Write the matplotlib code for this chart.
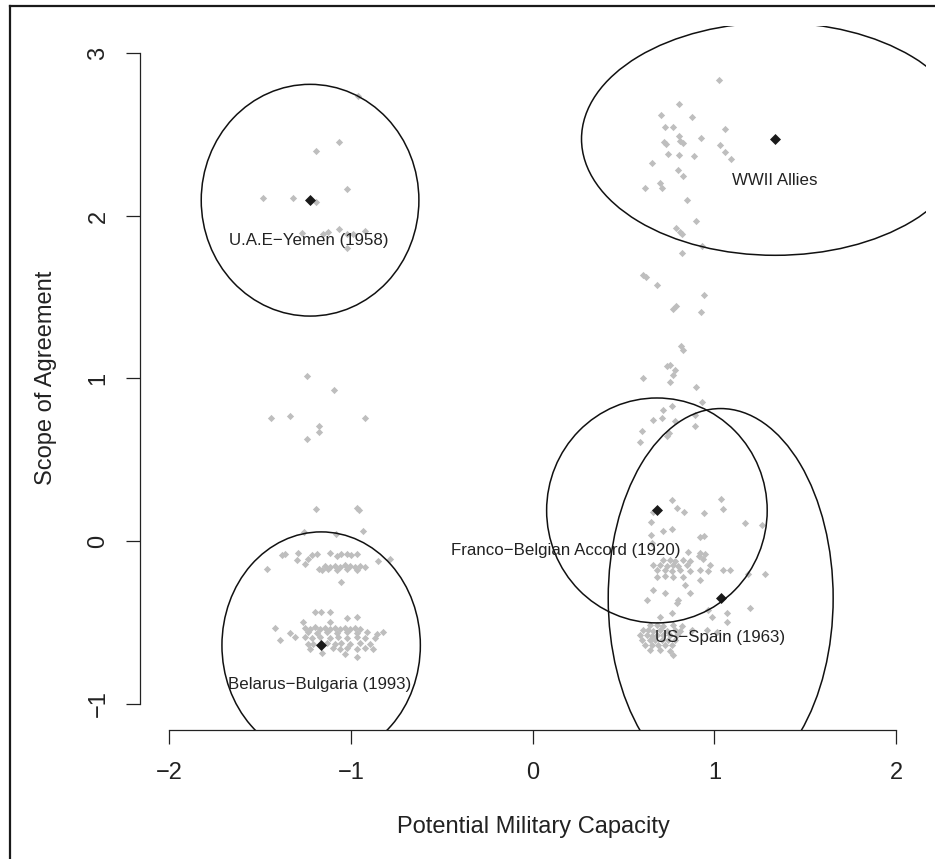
import matplotlib
matplotlib.use("Agg")
import matplotlib.pyplot as plt
from matplotlib.patches import Ellipse
from matplotlib.lines import Line2D

plt.rcParams['font.family'] = ['Liberation Sans', 'DejaVu Sans']

# grey dots: individual alliances (left group)
left_x = [-0.960, -1.064, -1.194, -1.022, -1.486, -1.318, -1.194, -1.268, -1.152, -1.125,
          -1.064, -1.024, -0.987, -0.923, -1.020, -1.240,
          -1.094, -1.439, -1.334, -0.921, -1.174, -1.174, -1.244, -1.194, -0.969, -0.954,
          -1.259, -1.083, -0.932,
          -1.380, -1.363, -1.290, -1.216, -1.189, -1.116, -1.079, -1.052, -1.024, -0.997, -0.969,
          -1.299, -1.235, -0.850, -0.785, -1.253,
          -1.143, -1.116, -1.088, -1.061, -1.034, -1.006, -0.979, -0.951, -0.924,
          -1.464, -1.178, -1.161, -1.125, -1.079, -1.024, -0.969, -1.052,
          -1.198, -1.167, -1.116, -1.020, -0.969, -1.262, -1.116,
          -1.418, -1.253, -1.226, -1.198, -1.171, -1.143, -1.116, -1.088, -1.061, -1.034, -1.006, -0.979, -0.951,
          -1.336, -1.235, -1.189, -1.134, -1.079, -1.024, -0.969, -0.914, -0.859, -0.822,
          -1.308, -1.253, -1.216, -1.171, -1.116, -1.070, -1.024, -0.969, -0.923, -0.868,
          -1.391,
          -1.235, -1.207, -1.134, -1.088, -1.052, -1.006, -0.951, -0.896,
          -1.226, -1.097, -1.061, -1.024, -0.969, -0.923, -0.877,
          -1.161, -1.034, -0.969]
left_y = [2.737, 2.456, 2.399, 2.163, 2.112, 2.112, 2.087, 1.896, 1.892, 1.902,
          1.917, 1.892, 1.892, 1.908, 1.806, 1.014,
          0.932, 0.756, 0.772, 0.756, 0.706, 0.672, 0.625, 0.196, 0.200, 0.190,
          0.056, 0.046, 0.060,
          -0.086, -0.078, -0.074, -0.088, -0.080, -0.076, -0.090, -0.082, -0.078, -0.086, -0.080,
          -0.118, -0.112, -0.122, -0.110, -0.142,
          -0.155, -0.160, -0.152, -0.158, -0.150, -0.156, -0.160, -0.153, -0.158,
          -0.175, -0.172, -0.178, -0.170, -0.176, -0.172, -0.178, -0.252,
          -0.436, -0.438, -0.434, -0.472, -0.468, -0.497, -0.500,
          -0.538, -0.535, -0.542, -0.532, -0.540, -0.536, -0.544, -0.534, -0.540, -0.537, -0.543, -0.536, -0.540,
          -0.564, -0.560, -0.568, -0.562, -0.566, -0.560, -0.568, -0.563, -0.570, -0.562,
          -0.593, -0.590, -0.596, -0.592, -0.598, -0.590, -0.595, -0.592, -0.597, -0.594,
          -0.610,
          -0.631, -0.634, -0.628, -0.633, -0.630, -0.636, -0.629, -0.633,
          -0.662, -0.660, -0.665, -0.658, -0.664, -0.660, -0.666,
          -0.692, -0.695, -0.712]

# grey dots (right group)
right_x = [1.027, 0.807, 0.704, 0.877, 0.726, 0.774, 1.058, 0.807, 0.928, 0.723,
           0.734, 0.811, 0.825, 1.031, 1.058, 1.090, 0.746, 0.805, 0.888, 0.658,
           0.801, 0.825, 0.701, 0.712, 0.618, 0.847, 0.897, 0.787, 0.811, 0.820,
           0.930, 0.820, 0.609, 0.624, 0.686, 0.944, 0.770, 0.789, 0.925, 0.816,
           0.829, 0.741, 0.756, 0.783, 0.774, 0.609,
           0.756, 0.899, 0.930, 0.719, 0.765, 0.660, 0.713, 0.783, 0.893, 0.893,
           0.600, 0.590, 0.752, 0.741,
           0.768, 0.792, 0.834, 0.943, 1.035, 1.049, 1.168, 1.264, 0.649, 0.715,
           0.765, 0.649, 0.921, 0.943, 0.655, 0.664,
           0.856, 0.921, 0.948, 0.917,
           0.719, 0.756, 0.783, 0.829, 0.866, 0.939,
           0.664, 0.701, 0.737, 0.774, 0.801, 0.848, 0.976,
           0.682, 0.728, 0.765, 0.811, 0.866, 0.921, 0.966, 1.049, 1.086,
           1.187, 1.279,
           0.682, 0.728, 0.774, 0.829,
           0.921, 0.838, 0.664, 0.728, 0.866, 0.627, 0.801, 0.792, 1.197, 0.966,
           0.765, 1.068, 0.701, 0.985, 1.068,
           0.646, 0.682, 0.719, 0.774, 0.820,
           0.609, 0.636, 0.664, 0.701, 0.737, 0.783, 0.811, 0.875,
           0.591, 0.627, 0.655, 0.682, 0.719, 0.756, 0.792,
           0.600, 0.646, 0.673, 0.710, 0.746, 0.783,
           0.618, 0.655, 0.691, 0.728, 0.765,
           0.646, 0.701, 0.756, 0.774, 0.958, 1.013]
right_y = [2.836, 2.688, 2.620, 2.610, 2.545, 2.545, 2.538, 2.491, 2.477, 2.456,
           2.442, 2.462, 2.450, 2.436, 2.394, 2.349, 2.384, 2.378, 2.366, 2.323,
           2.282, 2.245, 2.200, 2.175, 2.175, 2.101, 1.972, 1.929, 1.902, 1.892,
           1.814, 1.775, 1.636, 1.622, 1.574, 1.513, 1.425, 1.445, 1.410, 1.199,
           1.178, 1.076, 1.082, 1.051, 1.020, 1.000,
           0.980, 0.945, 0.856, 0.809, 0.830, 0.743, 0.754, 0.739, 0.774, 0.706,
           0.678, 0.610, 0.662, 0.645,
           0.255, 0.200, 0.179, 0.175, 0.257, 0.196, 0.108, 0.101, 0.117, 0.062,
           0.073, 0.036, 0.025, 0.030, -0.015, 0.180,
           -0.065, -0.075, -0.080, -0.092,
           -0.118, -0.114, -0.122, -0.116, -0.120, -0.112,
           -0.149, -0.146, -0.152, -0.148, -0.153, -0.145, -0.150,
           -0.180, -0.176, -0.184, -0.178, -0.182, -0.177, -0.183, -0.180, -0.176,
           -0.200, -0.204,
           -0.221, -0.218, -0.224, -0.220,
           -0.241, -0.272, -0.303, -0.323, -0.323, -0.364, -0.364, -0.381, -0.415, -0.425,
           -0.446, -0.446, -0.467, -0.467, -0.497,
           -0.518, -0.515, -0.521, -0.516, -0.520,
           -0.549, -0.546, -0.552, -0.547, -0.551, -0.548, -0.553, -0.549,
           -0.579, -0.576, -0.582, -0.578, -0.581, -0.577, -0.580,
           -0.610, -0.607, -0.612, -0.608, -0.611, -0.609,
           -0.640, -0.637, -0.642, -0.639, -0.641,
           -0.672, -0.669, -0.674, -0.703, -0.545, -0.559]

# highlighted alliances, their ellipses and labels
names = ["U.A.E\u2212Yemen (1958)", "Belarus\u2212Bulgaria (1993)", "WWII Allies",
         "Franco\u2212Belgian Accord (1920)", "US\u2212Spain (1963)"]
hx = [-1.225, -1.164, 1.335, 0.684, 1.035]
hy = [2.097, -0.642, 2.474, 0.188, -0.352]
rx = [0.599, 0.546, 1.066, 0.607, 0.619]
ry = [0.713, 0.698, 0.716, 0.692, 1.167]
lab_x = [-1.231, -1.174, 1.335, 0.184, 1.031]
lab_y = [1.851, -0.881, 2.220, -0.057, -0.596]

fig = plt.figure(figsize=(9.35, 8.59), dpi=100)
ax = fig.add_axes([140 / 935, 1 - 730 / 859, 786 / 935, 704 / 859])

ax.scatter(left_x + right_x, left_y + right_y, marker='D', s=3.7 ** 2,
           color='#bebebe', linewidths=0, zorder=2)
ax.scatter(hx, hy, marker='D', s=5.6 ** 2, color='#1a1a1a', linewidths=0, zorder=3)

for i in range(len(names)):
    ax.add_patch(Ellipse((hx[i], hy[i]), 2 * rx[i], 2 * ry[i], fill=False,
                         edgecolor='#111111', lw=1.1, zorder=4))
    ax.text(lab_x[i], lab_y[i], names[i], ha='center', va='center',
            fontsize=12.2, color='#222222', zorder=5)

ax.set_xlim(-2.161, 2.165)
ax.set_ylim(-1.163, 3.169)

for s in ['top', 'right']:
    ax.spines[s].set_visible(False)
ax.spines['left'].set_bounds(-1, 3)
ax.spines['bottom'].set_bounds(-2, 2)
for s in ['left', 'bottom']:
    ax.spines[s].set_color('#222222')
    ax.spines[s].set_linewidth(0.9)

ax.set_xticks([-2, -1, 0, 1, 2])
ax.set_yticks([-1, 0, 1, 2, 3])
ax.tick_params(axis='both', direction='out', length=10, width=0.9,
               color='#222222', labelsize=17, labelcolor='#222222')
ax.tick_params(axis='x', pad=13)
ax.tick_params(axis='y', pad=12)
for lbl in ax.get_yticklabels():
    lbl.set_rotation(90)
    lbl.set_va('center')

ax.set_xlabel("Potential Military Capacity", fontsize=17, color='#222222')
ax.xaxis.set_label_coords(0.5, -0.122)
ax.set_ylabel("Scope of Agreement", fontsize=17, color='#222222')
ax.yaxis.set_label_coords(-0.106, 0.5)

# outer frame (left and top edges visible)
fx = 10 / 935
fy = 1 - 6 / 859
fig.add_artist(Line2D([fx, fx], [0, fy], transform=fig.transFigure, color='#1a1a1a', lw=1.6))
fig.add_artist(Line2D([fx, 1], [fy, fy], transform=fig.transFigure, color='#1a1a1a', lw=1.6))

fig.savefig("out.png", dpi=100)
